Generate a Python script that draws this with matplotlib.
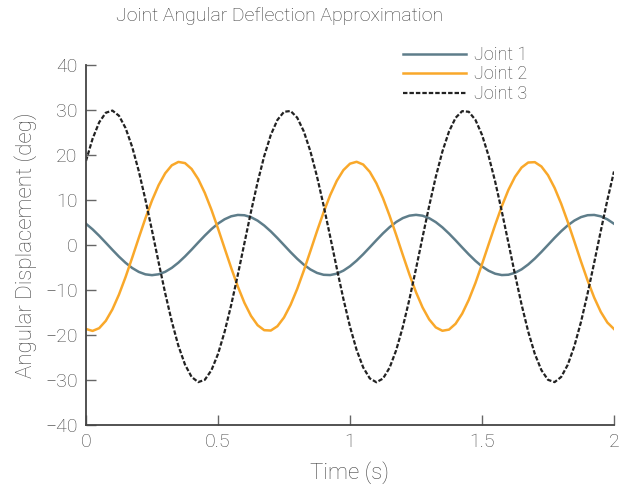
import numpy as np
import matplotlib
matplotlib.use("Agg")
import matplotlib.pyplot as plt

# time samples (s) (deg)
time = np.linspace(0, 2, 81)

joint1 = [4.72, 3.48, 2.05, 0.50, -1.07, -2.59, -3.96, -5.11, -5.98, -6.52,
          -6.70, -6.51, -5.96, -5.08, -3.92, -2.54, -1.03, 0.55, 2.09, 3.52,
          4.76, 5.72, 6.38, 6.68, 6.61, 6.18, 5.41, 4.33, 3.02, 1.54,
          -0.02, -1.59, -3.06, -4.37, -5.43, -6.20, -6.62, -6.68, -6.37, -5.70,
          -4.72, -3.48, -2.05, -0.50, 1.07, 2.59, 3.96, 5.11, 5.98, 6.52,
          6.70, 6.51, 5.96, 5.08, 3.92, 2.54, 1.03, -0.55, -2.09, -3.52,
          -4.76, -5.72, -6.38, -6.68, -6.61, -6.18, -5.41, -4.33, -3.02, -1.54,
          0.02, 1.59, 3.06, 4.37, 5.43, 6.20, 6.62, 6.68, 6.37, 5.70,
          4.72]

joint2 = [-18.67, -19.09, -18.48, -16.85, -14.31, -11.00, -7.10, -2.82, 1.60, 5.92,
          9.89, 13.29, 15.94, 17.71, 18.46, 18.20, 16.90, 14.65, 11.58, 7.86,
          3.67, -0.73, -5.09, -9.21, -12.84, -15.75, -17.82, -18.93, -19.01, -18.05,
          -16.11, -13.29, -9.76, -5.70, -1.35, 3.07, 7.28, 11.09, 14.27, 16.64,
          18.07, 18.49, 17.88, 16.25, 13.71, 10.40, 6.50, 2.22, -2.20, -6.52,
          -10.49, -13.89, -16.54, -18.31, -19.06, -18.80, -17.50, -15.25, -12.18, -8.46,
          -4.27, 0.13, 4.49, 8.61, 12.24, 15.15, 17.22, 18.33, 18.41, 17.45,
          15.51, 12.69, 9.16, 5.10, 0.75, -3.67, -7.88, -11.69, -14.87, -17.24,
          -18.67]

joint3 = [18.70, 23.62, 27.27, 29.39, 29.87, 28.72, 25.97, 21.78, 16.40, 10.09,
          3.23, -3.83, -10.72, -17.00, -22.41, -26.57, -29.32, -30.47, -29.96, -27.84,
          -24.22, -19.30, -13.32, -6.64, 0.39, 7.40, 13.95, 19.75, 24.46, 27.79,
          29.60, 29.78, 28.30, 25.25, 20.81, 15.22, 8.79, 1.84, -5.19, -11.99,
          -18.15, -23.31, -27.21, -29.65, -30.50, -29.68, -27.27, -23.37, -18.21, -12.08,
          -5.28, 1.78, 8.70, 15.16, 20.78, 25.22, 28.27, 29.75, 29.60, 27.82,
          24.49, 19.81, 14.05, 7.46, 0.49, -6.55, -13.26, -19.24, -24.19, -27.81,
          -29.96, -30.47, -29.32, -26.60, -22.44, -17.09, -10.78, -3.92, 3.14, 10.03,
          16.34]

labels = ["Joint 1", "Joint 2", "Joint 3"]
xticks = [0, 0.5, 1, 1.5, 2]
xticklabels = ["0", "0.5", "1", "1.5", "2"]
yticks = [-40, -30, -20, -10, 0, 10, 20, 30, 40]

plt.rcParams["font.family"] = ["Roboto", "DejaVu Sans"]
plt.rcParams["font.weight"] = "light"
plt.rcParams["axes.labelweight"] = "light"
textcolor = "#444444"

fig = plt.figure(figsize=(6.3, 4.92), dpi=100)
ax = fig.add_axes([86/630, 1 - 425/492, 528/630, 360/492])

l1, = ax.plot(time, joint1, color="#5e7d8a", lw=1.8)
l2, = ax.plot(time, joint2, color="#f9a82a", lw=1.8)
l3, = ax.plot(time, joint3, color="#222222", lw=1.6, linestyle=(0, (2.0, 0.9)))

ax.set_xlim(0, 2)
ax.set_ylim(-40, 40)
ax.set_xticks(xticks)
ax.set_xticklabels(xticklabels)
ax.set_yticks(yticks)
ax.tick_params(direction="in", length=7, width=1, colors="#666666",
               labelsize=14, labelcolor=textcolor, pad=6)
for s in ["top", "right"]:
    ax.spines[s].set_visible(False)
for s in ["left", "bottom"]:
    ax.spines[s].set_color("#444444")
    ax.spines[s].set_linewidth(1.3)

ax.set_xlabel("Time (s)", fontsize=16, color=textcolor, labelpad=7)
ax.set_ylabel("Angular Displacement (deg)", fontsize=16, color=textcolor, labelpad=6)
fig.text(280/630, 1 - 16/492, "Joint Angular Deflection Approximation",
         ha="center", va="center", fontsize=14, color="#3a3a3a")

fig.legend([l1, l2, l3], labels, loc="upper left",
           bbox_to_anchor=(394/630, 1 - 37/492), frameon=False,
           fontsize=13, labelcolor=textcolor, handlelength=3.5,
           handletextpad=0.45, labelspacing=0.08, borderpad=0)

fig.savefig("out.png", dpi=100)
